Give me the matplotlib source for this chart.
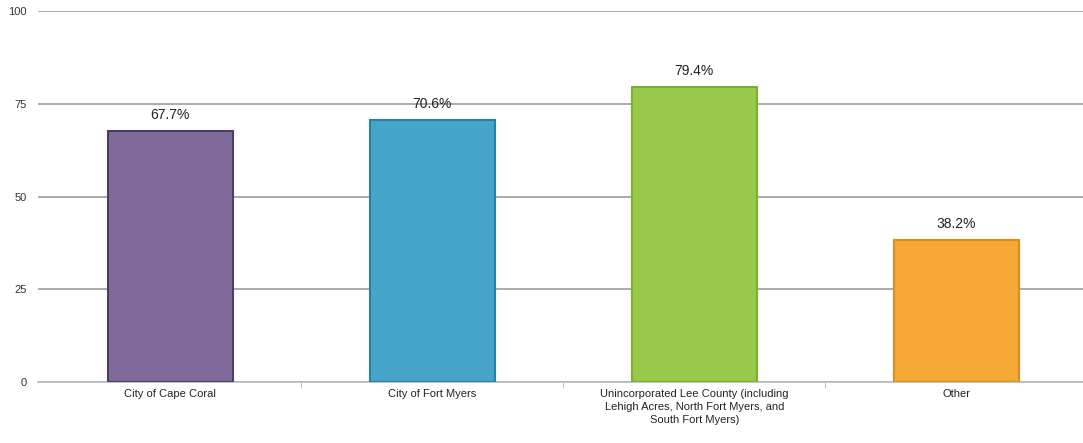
import matplotlib.pyplot as plt

# values
categories = ['City of Cape Coral', 'City of Fort Myers',
              'Unincorporated Lee County (including\nLehigh Acres, North Fort Myers, and\nSouth Fort Myers)',
              'Other']
values = [67.7, 70.6, 79.4, 38.2]
value_labels = ['67.7%', '70.6%', '79.4%', '38.2%']
yticks = [0, 25, 50, 75, 100]

fills = ['#806a9a', '#46a5c8', '#98c94b', '#f5a834']
edges = ['#4f3c68', '#2b7fa1', '#7caf2f', '#d98f1f']

plt.rcParams['font.family'] = ['Liberation Sans', 'DejaVu Sans']

fig = plt.figure(figsize=(10.83, 4.43), dpi=100)
ax = fig.add_axes([38 / 1083, 61 / 443, 1048 / 1083, 371 / 443])

x = range(len(categories))
ax.bar(x, values, width=0.475, color=fills, edgecolor=edges, linewidth=1.5, zorder=3)

for xi, v, lab in zip(x, values, value_labels):
    ax.annotate(lab, (xi, v), xytext=(0, 6.5), textcoords='offset points',
                ha='center', va='bottom', fontsize=10, color='#222222', zorder=4)

ax.set_xlim(-0.505, 3.495)
ax.set_ylim(0, 100)
ax.set_yticks(yticks)
ax.yaxis.grid(True, color='#a5a5a5', linewidth=1.3, zorder=0)
ax.tick_params(axis='y', length=0, labelsize=8, colors='#333333', pad=8)

ax.set_xticks(list(x))
ax.set_xticklabels(categories, fontsize=8, color='#222222', linespacing=1.35)
ax.tick_params(axis='x', length=0, pad=5)
# small ticks between categories
ax.set_xticks([0.5, 1.5, 2.5], minor=True)
ax.tick_params(axis='x', which='minor', length=4, color='#b0b8c0')

for s in ['top', 'right', 'left']:
    ax.spines[s].set_visible(False)
ax.spines['bottom'].set_color('#b3bcc6')
ax.spines['bottom'].set_linewidth(1.2)

plt.savefig('out.png', dpi=100)
